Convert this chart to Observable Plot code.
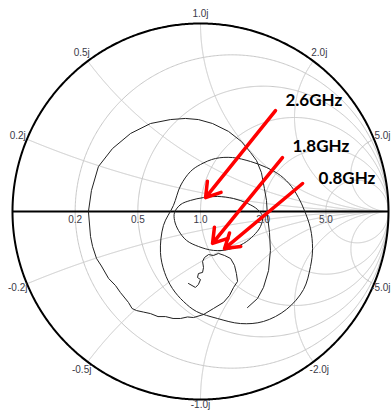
<!DOCTYPE html>
<html><head><meta charset="utf-8">
<script src="https://cdn.jsdelivr.net/npm/d3@7"></script>
<script src="https://cdn.jsdelivr.net/npm/@observablehq/plot@0.6"></script>
<style>
html,body{margin:0;padding:0;background:#fff;}
#chart svg{display:block;}
</style></head><body><div id="chart"></div>
<script>
// Smith chart grid values and tick labels
const resistanceTicks = [0.2, 0.5, 1.0, 2.0, 5.0];
const resistanceLabels = ["0.2", "0.5", "1.0", "2.0", "5.0"];
const reactanceTicks = [0.2, 0.5, 1.0, 2.0, 5.0, -0.2, -0.5, -1.0, -2.0, -5.0];
const reactanceLabels = ["0.2j", "0.5j", "1.0j", "2.0j", "5.0j", "-0.2j", "-0.5j", "-1.0j", "-2.0j", "-5.0j"];

const traceA = [
  [0.250,-0.511],[0.303,-0.463],[0.335,-0.404],[0.362,-0.314],[0.372,-0.207],[0.367,-0.112],
  [0.356,-0.021],[0.351,0.059],[0.340,0.122],[0.324,0.207],[0.298,0.271],[0.266,0.314],
  [0.218,0.372],[0.149,0.426],[0.064,0.468],[-0.011,0.489],[-0.080,0.495],[-0.160,0.489],
  [-0.266,0.468],[-0.372,0.415],[-0.468,0.335],[-0.543,0.239],[-0.580,0.112],[-0.596,0.000],
  [-0.585,-0.133],[-0.574,-0.186],[-0.553,-0.250],[-0.527,-0.290],[-0.489,-0.356],[-0.452,-0.394],
  [-0.426,-0.431],[-0.383,-0.484],[-0.364,-0.516],[-0.340,-0.527],[-0.303,-0.535],[-0.266,-0.543],
  [-0.226,-0.559],[-0.186,-0.559],[-0.146,-0.569],[-0.106,-0.569],[-0.069,-0.561],[-0.037,-0.564],
  [0.016,-0.548],[0.069,-0.516],[0.122,-0.484],[0.154,-0.447],[0.176,-0.404],[0.197,-0.372],
  [0.191,-0.330],[0.181,-0.287],[0.160,-0.250],[0.128,-0.234],[0.096,-0.223],[0.069,-0.234],
  [0.043,-0.229],[0.021,-0.245],[0.011,-0.266],[0.016,-0.298],[0.011,-0.324],[-0.011,-0.330],
  [-0.016,-0.351],[0.000,-0.362],[-0.011,-0.388],[-0.027,-0.404],[-0.064,-0.383]
];
const traceB = [
  [-0.144,0.032],[-0.106,0.138],[-0.053,0.213],[0.000,0.250],[0.080,0.282],[0.170,0.287],
  [0.266,0.266],[0.351,0.234],[0.426,0.191],[0.484,0.133],[0.521,0.074],[0.553,0.005],
  [0.585,-0.090],[0.596,-0.197],[0.585,-0.293],[0.548,-0.415],[0.457,-0.521],[0.335,-0.585],
  [0.213,-0.596],[0.090,-0.569],[-0.021,-0.532],[-0.090,-0.479],[-0.149,-0.410],[-0.191,-0.324],
  [-0.213,-0.218],[-0.197,-0.074]
];
const traceS = [
  [-0.138,-0.005],[-0.106,0.037],[-0.053,0.059],[0.016,0.074],[0.090,0.080],[0.176,0.069],
  [0.250,0.043],[0.303,0.011],[0.330,-0.027],[0.319,-0.080],[0.282,-0.128],[0.229,-0.170],
  [0.149,-0.202],[0.069,-0.207],[-0.011,-0.186],[-0.074,-0.154],[-0.117,-0.101],[-0.138,-0.048]
];

// Frequency annotations: label, arrow tail and tip in Γ coordinates
const freqLabels = ["2.6GHz", "1.8GHz", "0.8GHz"];
const labelAt = [[0.452,0.590],[0.489,0.346],[0.628,0.176]];
const arrowTail = [[0.399,0.537],[0.436,0.287],[0.543,0.149]];
const arrowTip = [[0.027,0.074],[0.064,-0.170],[0.128,-0.197]];

// ---- geometry helpers (grid construction) ----
function resistanceCircle(r) {
  const c = r / (1 + r), rad = 1 / (1 + r);
  return d3.range(721).map(i => {
    const t = 2 * Math.PI * i / 720;
    return {x: c + rad * Math.cos(t), y: rad * Math.sin(t), g: "r" + r};
  });
}
function reactanceArc(xv) {
  return d3.range(801).map(i => {
    const t = i / 800;
    const r = t < 1 ? t / (1 - t) : 1e9;
    const den = (r + 1) * (r + 1) + xv * xv;
    return {x: (r * r - 1 + xv * xv) / den, y: 2 * xv / den, g: "x" + xv};
  });
}
const grid = [
  ...resistanceTicks.flatMap(resistanceCircle),
  ...reactanceTicks.flatMap(reactanceArc)
];
const outer = resistanceCircle(0);

const W = 391, H = 410, CX = 200, CY = 211, R = 188;
const FONT = "'Liberation Sans', Arial, sans-serif";
const ctx = document.createElement("canvas").getContext("2d");
ctx.font = "10px " + FONT;

const rLabelData = resistanceTicks.map((r, i) => ({x: (r - 1) / (r + 1), y: 0, label: resistanceLabels[i]}));
const lab = 1 + 10 / R;
const xLabelData = reactanceTicks.map((xv, i) => {
  let x = lab * (xv * xv - 1) / (1 + xv * xv);
  let y = lab * 2 * xv / (1 + xv * xv);
  // keep label fully inside the frame
  const half = ctx.measureText(reactanceLabels[i]).width / 2;
  const px = CX + x * R, py = CY - y * R;
  const pxC = Math.max(half + 1, Math.min(W - 1 - half, px));
  const pyC = Math.max(6, Math.min(H - 5.5, py));
  return {x: (pxC - CX) / R, y: (CY - pyC) / R, label: reactanceLabels[i]};
});

const toObj = (arr, name) => arr.map(([re, im]) => ({x: re, y: im, s: name}));
const annData = freqLabels.map((t, i) => ({
  label: t, lx: labelAt[i][0], ly: labelAt[i][1],
  x1: arrowTail[i][0], y1: arrowTail[i][1], x2: arrowTip[i][0], y2: arrowTip[i][1]
}));

const chart = Plot.plot({
  width: W, height: H, margin: 0,
  x: {domain: [-CX / R, (W - CX) / R], axis: null},
  y: {domain: [-(H - CY) / R, CY / R], axis: null},
  style: {fontFamily: FONT, background: "#fff"},
  marks: [
    Plot.line(grid, {x: "x", y: "y", z: "g", stroke: "#c8c8c8", strokeWidth: 1}),
    Plot.ruleY([0], {x1: -1, x2: 1, stroke: "#000", strokeWidth: 2}),
    Plot.line(outer, {x: "x", y: "y", stroke: "#000", strokeWidth: 2}),
    Plot.text(rLabelData, {x: "x", y: "y", text: "label", dy: 8, fontSize: 10, fill: "#3a3a48", textAnchor: "middle", lineAnchor: "middle"}),
    Plot.text(xLabelData, {x: "x", y: "y", text: "label", fontSize: 10, fill: "#3a3a48", textAnchor: "middle", lineAnchor: "middle"}),
    Plot.line(toObj(traceB, "B"), {x: "x", y: "y", curve: "catmull-rom-closed", stroke: "#222", strokeWidth: 1}),
    Plot.line(toObj(traceS, "S"), {x: "x", y: "y", curve: "catmull-rom-closed", stroke: "#222", strokeWidth: 1}),
    Plot.line(toObj(traceA, "A"), {x: "x", y: "y", curve: "linear", stroke: "#222", strokeWidth: 1}),
    Plot.arrow(annData, {x1: "x1", y1: "y1", x2: "x2", y2: "y2", stroke: "#ff0000", strokeWidth: 3.5, headLength: 7, headAngle: 65}),
    Plot.text(annData, {x: "lx", y: "ly", text: "label", fontSize: 17, fontWeight: "bold", fontFamily: "Lato, 'Liberation Sans', sans-serif", fill: "#000", textAnchor: "start", lineAnchor: "middle"})
  ]
});
document.getElementById("chart").appendChild(chart);
</script>
</body></html>
